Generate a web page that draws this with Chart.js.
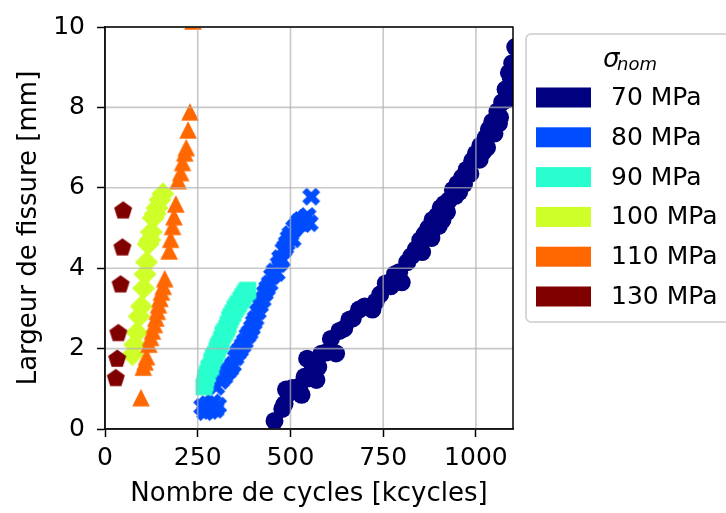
<!DOCTYPE html>
<html>
<head>
<meta charset="utf-8">
<script src="https://cdn.jsdelivr.net/npm/chart.js@4.4.0/dist/chart.umd.min.js"></script>
<style>
  html, body { margin: 0; padding: 0; background: #fff; }
  canvas { display: block; }
</style>
</head>
<body>
<canvas id="crackChart" width="726" height="513"></canvas>
<script>
// tick labels
const xTicks = [0, 250, 500, 750, 1000];
const yTicks = [0, 2, 4, 6, 8, 10];

// series labels / colours (jet colormap)
const stressLabels = ["70 MPa", "80 MPa", "90 MPa", "100 MPa", "110 MPa", "130 MPa"];
const stressColors = ["#000080", "#004cff", "#29ffce", "#ceff29", "#ff6800", "#800000"];

// 70 MPa
const cycles70 = [457, 478, 484, 488, 497, 505, 518, 524, 530, 538, 551, 545, 560, 570, 575, 583, 596, 609, 623, 632, 645, 659, 668, 685, 700, 721, 730, 742, 757, 770, 782, 793, 800, 815, 826, 838, 850, 862, 872, 880, 883, 895, 900, 905, 915, 922, 927, 938, 945, 950, 963, 968, 975, 985, 990, 1000, 1010, 1012, 1026, 1030, 1035, 1044, 1050, 1058, 1065, 1071, 1080, 1085, 1089, 1095, 1098, 1106, 855, 910, 955, 1020, 1062, 1092];
const width70 = [0.2, 0.5, 0.62, 0.98, 0.9, 1.02, 1.0, 1.06, 0.85, 1.3, 1.26, 1.75, 1.5, 1.22, 1.54, 1.87, 1.9, 2.24, 1.88, 2.44, 2.5, 2.72, 2.75, 2.97, 3.05, 2.97, 3.17, 3.35, 3.62, 3.55, 3.85, 3.9, 3.65, 4.15, 4.3, 4.47, 4.7, 4.85, 5.0, 4.75, 5.2, 5.3, 5.05, 5.5, 5.6, 5.4, 5.69, 5.95, 5.8, 6.1, 6.26, 6.1, 6.45, 6.35, 6.67, 6.85, 6.7, 7.05, 7.24, 7.0, 7.45, 7.64, 7.35, 7.9, 7.75, 8.13, 8.45, 8.2, 8.86, 8.7, 9.1, 9.5, 4.4, 5.2, 5.9, 6.9, 7.6, 8.3];

// 80 MPa
const cycles80 = [262, 270, 276, 284, 291, 298, 305, 300, 312, 322, 330, 338, 345, 352, 358, 364, 371, 377, 384, 390, 396, 401, 406, 412, 418, 425, 431, 437, 444, 450, 457, 463, 468, 472, 477, 481, 486, 490, 495, 500, 506, 510, 516, 522, 528, 534, 540, 546, 552, 556];
const width80 = [0.55, 0.42, 0.62, 0.45, 0.66, 0.48, 0.58, 1.05, 1.2, 1.3, 1.42, 1.5, 1.6, 1.78, 1.9, 1.97, 2.08, 2.18, 2.32, 2.4, 2.52, 2.65, 2.75, 2.92, 3.08, 3.22, 3.38, 3.5, 3.62, 3.8, 3.92, 3.88, 4.1, 4.25, 4.2, 4.45, 4.52, 4.62, 4.75, 4.85, 4.72, 5.0, 5.05, 5.15, 5.2, 5.1, 5.25, 5.3, 5.12, 5.78];

// 90 MPa
const cycles90 = [267, 270, 272, 276, 280, 285, 288, 292, 297, 302, 305, 310, 314, 318, 323, 328, 332, 336, 340, 345, 350, 355, 360, 366, 371, 376, 381, 385];
const width90 = [1.05, 1.15, 1.28, 1.38, 1.5, 1.55, 1.68, 1.78, 1.85, 1.95, 2.05, 2.12, 2.22, 2.35, 2.42, 2.5, 2.6, 2.72, 2.8, 2.88, 2.98, 3.05, 3.12, 3.2, 3.28, 3.35, 3.42, 3.45];

// 100 MPa
const cycles100 = [74, 80, 86, 92, 98, 104, 108, 112, 116, 121, 125, 130, 135, 140, 148, 156];
const width100 = [1.85, 2.1, 2.4, 2.8, 3.05, 3.5, 3.85, 4.15, 4.6, 4.7, 4.9, 5.25, 5.35, 5.5, 5.7, 5.85];

// 110 MPa
const cycles110 = [97, 103, 108, 112, 118, 123, 128, 133, 137, 141, 144, 148, 152, 157, 161, 173, 177, 182, 186, 191, 197, 204, 209, 215, 219, 224, 229, 237];
const width110 = [0.78, 1.54, 1.67, 1.8, 2.11, 2.28, 2.44, 2.6, 2.76, 2.93, 3.09, 3.25, 3.41, 3.55, 3.74, 4.43, 4.72, 5.04, 5.28, 5.6, 6.18, 6.38, 6.63, 6.87, 7.0, 7.44, 7.89, 10.15];

// 130 MPa
const cycles130 = [29, 33, 36, 42, 47, 49];
const width130 = [1.26, 1.74, 2.38, 3.59, 4.51, 5.43];

// little canvases used as filled marker shapes
function makeMarker(shape, color, size) {
  const c = document.createElement("canvas");
  c.width = size;
  c.height = size;
  const g = c.getContext("2d");
  const h = size / 2;
  g.fillStyle = color;
  g.beginPath();
  if (shape === "triangle") {
    const r = 8.8;
    g.moveTo(h, h - r);
    g.lineTo(h + r, h + r);
    g.lineTo(h - r, h + r);
  } else if (shape === "diamond") {
    const r = 11.5;
    g.moveTo(h, h - r);
    g.lineTo(h + r, h);
    g.lineTo(h, h + r);
    g.lineTo(h - r, h);
  } else if (shape === "square") {
    g.rect(h - 8.5, h - 8.5, 17, 17);
  } else if (shape === "pentagon") {
    const r = 9.5;
    for (let k = 0; k < 5; k++) {
      const a = -Math.PI / 2 + k * 2 * Math.PI / 5;
      const px = h + r * Math.cos(a), py = h + r * Math.sin(a);
      if (k === 0) g.moveTo(px, py); else g.lineTo(px, py);
    }
  } else if (shape === "x") {
    const s = 18;
    const pts = [[0.25, 0], [0.5, 0.25], [0.75, 0], [1, 0.25], [0.75, 0.5], [1, 0.75],
                 [0.75, 1], [0.5, 0.75], [0.25, 1], [0, 0.75], [0.25, 0.5], [0, 0.25]];
    pts.forEach((p, i) => {
      const px = h + (p[0] - 0.5) * s, py = h + (p[1] - 0.5) * s;
      if (i === 0) g.moveTo(px, py); else g.lineTo(px, py);
    });
  }
  g.closePath();
  g.fill();
  return c;
}

function toPoints(xs, ys) {
  return xs.map((x, i) => ({ x: x, y: ys[i] }));
}

const seriesData = [
  toPoints(cycles70, width70),
  toPoints(cycles80, width80),
  toPoints(cycles90, width90),
  toPoints(cycles100, width100),
  toPoints(cycles110, width110),
  toPoints(cycles130, width130)
];
const markerShapes = ["circle", "x", "square", "diamond", "triangle", "pentagon"];

const datasets = stressLabels.map((label, i) => {
  const shape = markerShapes[i];
  return {
    label,
    data: seriesData[i],
    backgroundColor: stressColors[i],
    borderColor: stressColors[i],
    borderWidth: 0,
    pointStyle: shape === "circle" ? "circle" : makeMarker(shape, stressColors[i], 26),
    pointRadius: shape === "circle" ? 9 : 11,
    showLine: false,
    order: stressLabels.length - i // later series on top
  };
});

// grid over the markers + full black frame (like matplotlib)
const framePlugin = {
  id: "frame",
  afterDatasetsDraw(chart) {
    const { ctx, chartArea: a, scales } = chart;
    ctx.save();
    ctx.strokeStyle = "rgba(176,176,176,0.7)";
    ctx.lineWidth = 1.6;
    xTicks.forEach(v => {
      const px = scales.x.getPixelForValue(v);
      ctx.beginPath(); ctx.moveTo(px, a.top); ctx.lineTo(px, a.bottom); ctx.stroke();
    });
    yTicks.forEach(v => {
      const py = scales.y.getPixelForValue(v);
      ctx.beginPath(); ctx.moveTo(a.left, py); ctx.lineTo(a.right, py); ctx.stroke();
    });
    ctx.strokeStyle = "#000";
    ctx.lineWidth = 1.5;
    ctx.strokeRect(a.left, a.top, a.right - a.left, a.bottom - a.top);
    ctx.restore();
  }
};

// legend box on the right with the sigma_nom title
const legendPlugin = {
  id: "stressLegend",
  afterDraw(chart) {
    const ctx = chart.ctx;
    const bx = 526, by = 34, bw = 230, bh = 288, r = 5;
    ctx.save();
    ctx.beginPath();
    ctx.moveTo(bx + r, by);
    ctx.lineTo(bx + bw - r, by);
    ctx.arcTo(bx + bw, by, bx + bw, by + r, r);
    ctx.lineTo(bx + bw, by + bh - r);
    ctx.arcTo(bx + bw, by + bh, bx + bw - r, by + bh, r);
    ctx.lineTo(bx + r, by + bh);
    ctx.arcTo(bx, by + bh, bx, by + bh - r, r);
    ctx.lineTo(bx, by + r);
    ctx.arcTo(bx, by, bx + r, by, r);
    ctx.closePath();
    ctx.fillStyle = "rgba(255,255,255,0.8)";
    ctx.fill();
    ctx.strokeStyle = "#cccccc";
    ctx.lineWidth = 1.5;
    ctx.stroke();

    ctx.fillStyle = "#000";
    ctx.textBaseline = "alphabetic";
    ctx.textAlign = "left";
    ctx.font = "italic 26px 'DejaVu Sans'";
    ctx.fillText("σ", 603, 67);
    ctx.font = "italic 18px 'DejaVu Sans'";
    ctx.fillText("nom", 617, 70);

    ctx.font = "25px 'DejaVu Sans'";
    ctx.textBaseline = "middle";
    chart.data.datasets.forEach((ds, i) => {
      const cy = 97.5 + i * 39.8;
      ctx.fillStyle = ds.backgroundColor;
      ctx.fillRect(536, cy - 10, 55, 20);
      ctx.fillStyle = "#000";
      ctx.fillText(ds.label, 611, cy + 1);
    });
    ctx.restore();
  }
};

const tickFont = { family: "'DejaVu Sans'", size: 25 };
const titleFont = { family: "'DejaVu Sans'", size: 26 };

new Chart(document.getElementById("crackChart").getContext("2d"), {
  type: "scatter",
  data: { datasets },
  options: {
    responsive: false,
    animation: false,
    events: [],
    layout: { padding: { top: 20, right: 213, left: 0, bottom: 0 } },
    plugins: {
      legend: { display: false },
      tooltip: { enabled: false }
    },
    scales: {
      x: {
        type: "linear",
        min: 0,
        max: 1100,
        afterBuildTicks: s => { s.ticks = xTicks.map(v => ({ value: v })); },
        afterFit: s => { s.height = 84; },
        grid: { drawOnChartArea: false, drawTicks: true, tickLength: 8, tickColor: "#000", tickWidth: 1.5 },
        border: { display: true, color: "#000", width: 1.5 },
        ticks: { font: tickFont, color: "#000", padding: 6, maxRotation: 0, autoSkip: false, callback: v => String(v) },
        title: {
          display: true,
          text: "Nombre de cycles [kcycles]",
          font: titleFont,
          color: "#000",
          padding: { top: 0, bottom: 3 }
        }
      },
      y: {
        type: "linear",
        min: 0,
        max: 10,
        afterBuildTicks: s => { s.ticks = yTicks.map(v => ({ value: v })); },
        afterFit: s => { s.width = 105; },
        grid: { drawOnChartArea: false, drawTicks: true, tickLength: 8, tickColor: "#000", tickWidth: 1.5 },
        border: { display: true, color: "#000", width: 1.5 },
        ticks: { font: tickFont, color: "#000", padding: 12, autoSkip: false, callback: v => String(v) },
        title: {
          display: true,
          text: "Largeur de fissure [mm]",
          font: titleFont,
          color: "#000",
          padding: { top: 14, bottom: 0 }
        }
      }
    }
  },
  plugins: [framePlugin, legendPlugin]
});
</script>
</body>
</html>
